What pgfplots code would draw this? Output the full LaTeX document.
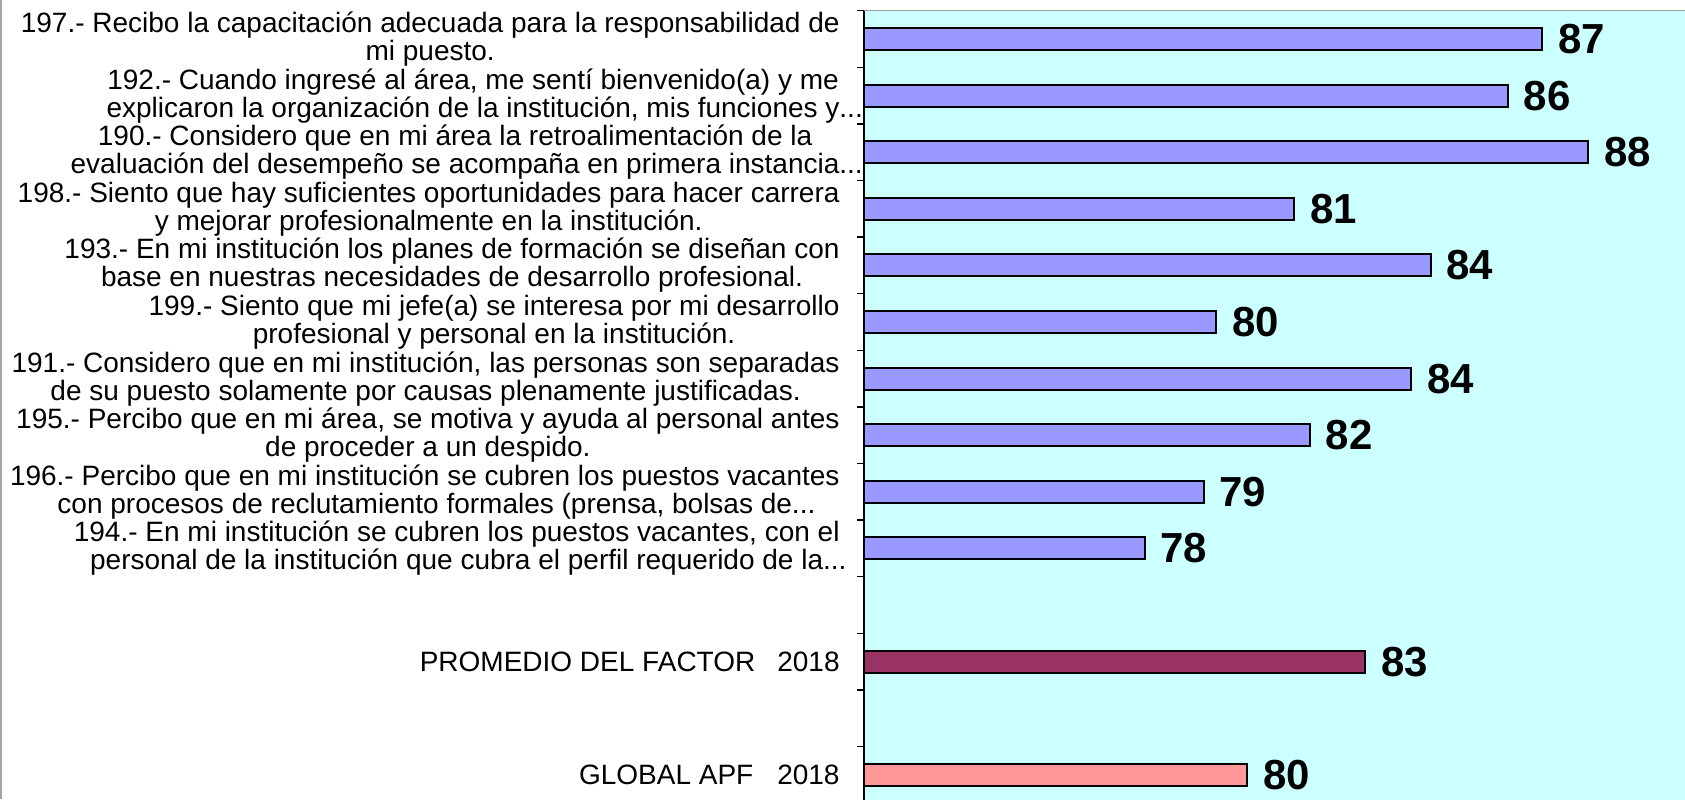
\documentclass[border=0pt]{standalone}
\usepackage{pgfplots}
\pgfplotsset{compat=1.18}
\usepackage{pgfplotstable}
\usepackage{fontspec}
\setmainfont{Liberation Sans}
\definecolor{bgc}{HTML}{CCFFFF}
\definecolor{barb}{HTML}{9999FF}
\definecolor{barp}{HTML}{993366}
\definecolor{barg}{HTML}{FF9999}
\newcommand{\ellip}{\rlap{...}}
\pgfplotstableread{
y v lab
13 86.97 87
12 86.19 86
11 88.00 88
10 81.37 81
9 84.45 84
8 79.62 80
7 84.01 84
6 81.73 82
5 79.33 79
4 78.00 78
}\qdata
\pgfplotstableread{
y v lab
2 82.98 83
}\pdata
\pgfplotstableread{
y v lab
0 80.32 80
}\gdata
\begin{document}
\begin{tikzpicture}
\useasboundingbox (0,0) rectangle (842.5pt,399.5pt);
\draw[gray!70, line width=0.9pt] (0.45pt,0) -- (0.45pt,399.5pt);
\begin{axis}[
  at={(432pt,394.15pt)}, anchor=north west,
  scale only axis, width=410.5pt, height=396.2pt,
  xmin=71.675, xmax=90.186, ymin=-0.5, ymax=13.5,
  xbar, bar width=11pt, bar shift=0pt,
  axis background/.style={fill=bgc},
  axis y line*=left, axis x line*=top,
  y axis line style={black, line width=0.9pt},
  x axis line style={gray!75, line width=0.7pt},
  xtick=\empty,
  ytick={0,...,13},
  yticklabels={
    {GLOBAL APF\hspace{12pt}2018},
    {},
    {PROMEDIO DEL FACTOR\hspace{11pt}2018},
    {},
    {194.- En mi institución se cubren los puestos vacantes, con el\\personal de la institución que cubra el perfil requerido de la\ellip},
    {196.- Percibo que en mi institución se cubren los puestos vacantes\\con procesos de reclutamiento formales (prensa, bolsas de\ellip},
    {195.- Percibo que en mi área, se motiva y ayuda al personal antes\\de proceder a un despido.},
    {191.- Considero que en mi institución, las personas son separadas\\de su puesto solamente por causas plenamente justificadas.},
    {199.- Siento que mi jefe(a) se interesa por mi desarrollo\\profesional y personal en la institución.},
    {193.- En mi institución los planes de formación se diseñan con\\base en nuestras necesidades de desarrollo profesional.},
    {198.- Siento que hay suficientes oportunidades para hacer carrera\\y mejorar profesionalmente en la institución.},
    {190.- Considero que en mi área la retroalimentación de la\\evaluación del desempeño se acompaña en primera instancia\ellip},
    {192.- Cuando ingresé al área, me sentí bienvenido(a) y me\\explicaron la organización de la institución, mis funciones y\ellip},
    {197.- Recibo la capacitación adecuada para la responsabilidad de\\mi puesto.}
  },
  minor ytick={-0.5,0.5,...,13.5},
  tick align=outside,
  major tick length=0pt,
  minor tick length=3.4pt,
  minor tick style={black, line width=0.7pt},
  yticklabel style={font=\fontsize{14pt}{14pt}\selectfont, align=center, anchor=east, inner sep=0pt, xshift=-12pt},
  nodes near coords,
  point meta=explicit symbolic,
  every node near coord/.append style={font=\fontsize{21pt}{21pt}\selectfont\bfseries, anchor=west, inner sep=0pt, xshift=7.5pt},
  clip=false,
]
\addplot[fill=barb, draw=black, line width=1pt] table[x=v, y=y, meta=lab] {\qdata};
\addplot[fill=barp, draw=black, line width=1pt] table[x=v, y=y, meta=lab] {\pdata};
\addplot[fill=barg, draw=black, line width=1pt] table[x=v, y=y, meta=lab] {\gdata};
\end{axis}
\end{tikzpicture}
\end{document}
